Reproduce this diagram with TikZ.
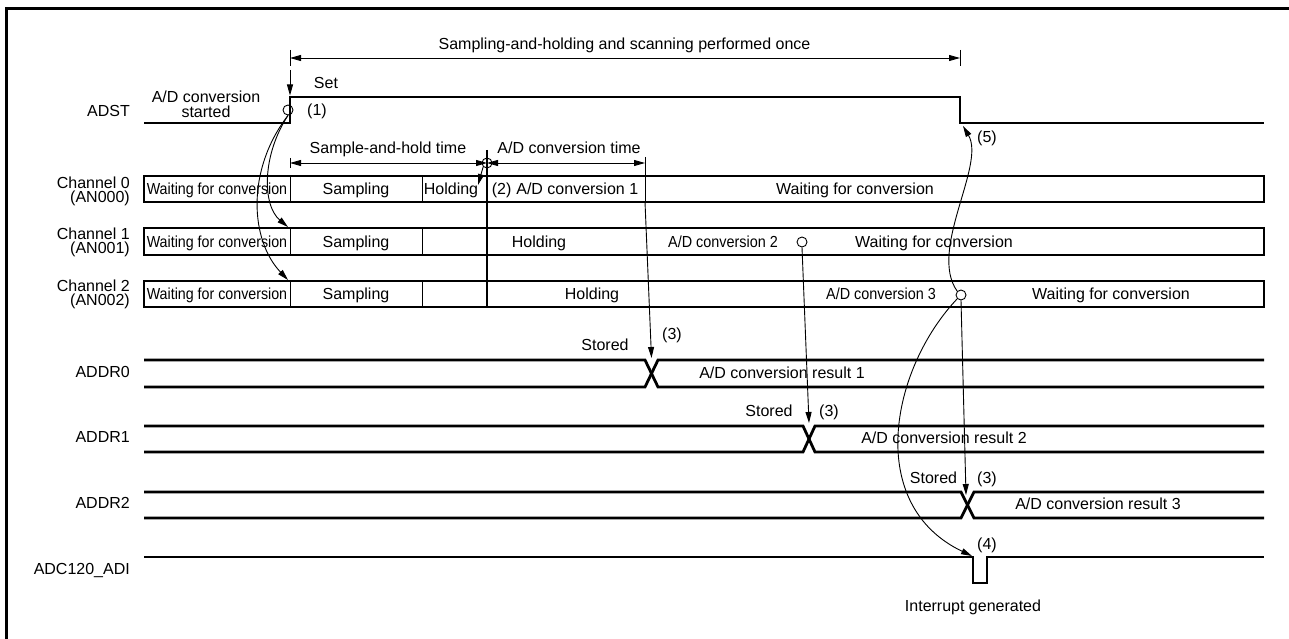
\documentclass[tikz,border=0pt]{standalone}
\usepackage{fontspec}
\usepackage{graphicx}
\setmainfont{Liberation Sans}
\usetikzlibrary{arrows.meta}
\begin{document}
\begin{tikzpicture}[x=1pt,y=-1pt,
  >={Triangle[length=11pt,width=6pt]},
  txt/.style={font=\fontsize{16}{18}\selectfont, inner sep=0pt, text height=11.5pt, text depth=0pt},
  lbl/.style={txt, anchor=east},
  sig/.style={line width=2.8pt, line join=miter},
  chbox/.style={line width=2.8pt},
  thinline/.style={line width=0.9pt},
  arr/.style={thinline, ->},
  dimline/.style={thinline, <->},
  ring/.style={circle, draw, line width=0.9pt, minimum size=10pt, inner sep=0pt},
]
\useasboundingbox (0,0) rectangle (1289,639);
% frame
\draw[line width=3pt] (6.5,639) -- (6.5,8.5) -- (1289,8.5);

% ---------- top dimension ----------
\coordinate (scanL) at (290,58);
\coordinate (scanR) at (960,58);
\draw[thinline] (290,50) -- (290,66) (960,50) -- (960,66);
\draw[dimline] (scanL) -- (scanR);
\node[txt] (scanlbl) at (624.5,44) {Sampling-and-holding and scanning performed once};

% ---------- ADST ----------
\node[lbl] (adstlbl) at (130,111) {ADST};
\coordinate (adstL) at (144,123);
\coordinate (adstRise) at (290,97);
\coordinate (adstFall) at (960,123);
\draw[sig] (adstL) -- (290,123) -- (adstRise) -- (960,97) -- (adstFall) -- (1264,123);
\node[txt] (started1) at (206,97) {A/D conversion};
\node[txt] (started2) at (206,112) {started};
\coordinate (setTop) at (290,70);
\draw[arr] (setTop) -- (290,95.5);
\node[txt] (setlbl) at (326,83) {Set};
\node[ring] (c1) at (288,110) {};
\node[txt] (n1) at (317,110) {(1)};
\node[txt] (n5) at (987,137) {(5)};

% ---------- second dimension row ----------
\draw[thinline] (290,158) -- (290,168);
\draw[thinline] (645,157) -- (645,202);
\coordinate (shL) at (290,163);
\coordinate (shR) at (487,163);
\coordinate (adR) at (645,163);
\draw[dimline] (shL) -- (shR);
\draw[dimline] (shR) -- (adR);
\node[txt] (shlbl) at (388,148) {Sample-and-hold time};
\node[txt] (adlbl) at (569,148) {A/D conversion time};
\draw[line width=2pt] (487,150) -- (487,307);
\node[ring] (c2) at (487,163) {};
\draw[arr] (c2.south west) -- (478,185);

% ---------- channel 0 ----------
\node[lbl] (ch0a) at (130,182.5) {Channel 0};
\node[lbl] (ch0b) at (130,196.5) {(AN000)};
\draw[chbox] (144,176) rectangle (1264,202);
\draw[thinline] (290,176) -- (290,202) (422,176) -- (422,202);
\node[txt] (w0) at (217,189) {\scalebox{0.89}[1]{Waiting for conversion}};
\node[txt] (s0) at (356,189) {Sampling};
\node[txt] (h0) at (451,189) {Holding};
\node[txt] (a0) at (565,189) {(2)\hspace{5pt}A/D conversion 1};
\node[txt] (w0b) at (855,189) {Waiting for conversion};

% ---------- channel 1 ----------
\node[lbl] (ch1a) at (130,234) {Channel 1};
\node[lbl] (ch1b) at (130,248) {(AN001)};
\draw[chbox] (144,228) rectangle (1264,255);
\draw[thinline] (290,228) -- (290,255) (422,228) -- (422,255);
\node[txt] (w1) at (217,241.5) {\scalebox{0.89}[1]{Waiting for conversion}};
\node[txt] (s1) at (356,241.5) {Sampling};
\node[txt] (h1) at (539,241.5) {Holding};
\node[txt] (a1) at (723,241.5) {\scalebox{0.9}[1]{A/D conversion 2}};
\node[ring] (c3) at (802,242) {};
\node[txt] (w1b) at (934,241.5) {Waiting for conversion};

% ---------- channel 2 ----------
\node[lbl] (ch2a) at (130,286) {Channel 2};
\node[lbl] (ch2b) at (130,300) {(AN002)};
\draw[chbox] (144,281) rectangle (1264,307);
\draw[thinline] (290,281) -- (290,307) (422,281) -- (422,307);
\node[txt] (w2) at (217,294) {\scalebox{0.89}[1]{Waiting for conversion}};
\node[txt] (s2) at (356,294) {Sampling};
\node[txt] (h2) at (592,294) {Holding};
\node[txt] (a2) at (881,294) {\scalebox{0.9}[1]{A/D conversion 3}};
\node[ring] (c4) at (961,295) {};
\node[txt] (w2b) at (1111,294) {Waiting for conversion};

% ---------- ADDR0 ----------
\node[lbl] (r0lbl) at (130,372) {ADDR0};
\coordinate (x0) at (651.5,358);
\draw[sig] (144,360) -- (645,360) -- (658,387) -- (1264,387);
\draw[sig] (144,387) -- (645,387) -- (658,360) -- (1264,360);
\node[txt] (st0) at (605,345) {Stored};
\node[txt] (p30) at (672,334) {(3)};
\node[txt] (res0) at (782,373) {A/D conversion result 1};

% ---------- ADDR1 ----------
\node[lbl] (r1lbl) at (130,437) {ADDR1};
\coordinate (x1) at (809,423);
\draw[sig] (144,426) -- (803,426) -- (815,452) -- (1264,452);
\draw[sig] (144,452) -- (803,452) -- (815,426) -- (1264,426);
\node[txt] (st1) at (769,411) {Stored};
\node[txt] (p31) at (829,411) {(3)};
\node[txt] (res1) at (944,438) {A/D conversion result 2};

% ---------- ADDR2 ----------
\node[lbl] (r2lbl) at (130,503) {ADDR2};
\coordinate (x2) at (966,495);
\draw[sig] (144,492) -- (961,492) -- (974,518) -- (1264,518);
\draw[sig] (144,518) -- (961,518) -- (974,492) -- (1264,492);
\node[txt] (st2) at (933.5,478) {Stored};
\node[txt] (p32) at (987,478) {(3)};
\node[txt] (res2) at (1098,504) {A/D conversion result 3};

% ---------- ADC120_ADI ----------
\node[lbl] (adilbl) at (130,569) {ADC120\_ADI};
\coordinate (pulse) at (972,556);
\draw[sig] (144,557) -- (973,557) -- (973,583) -- (987,583) -- (987,557) -- (1264,557);
\node[txt] (p4) at (987,544) {(4)};
\node[txt] (intlbl) at (973,606) {Interrupt generated};

% ---------- connectors ----------
\coordinate (ch1start) at (288,227);
\coordinate (ch2start) at (288,280);
\draw[arr] (c1.south) .. controls (262,155) and (262,205) .. (ch1start);
\draw[arr] (c1.south) .. controls (246,170) and (250,240) .. (ch2start);
\coordinate (ad1end) at (645,202);
\draw[arr] (ad1end) -- (x0);
\draw[arr] (c3.south) -- (x1);
\draw[arr] (c4.south) -- (x2);
\coordinate (adstFallTip) at (963,126);
\draw[arr] (c4.north west) .. controls (928,250) and (986,165) .. (adstFallTip);
\draw[arr] (c4.south west) .. controls (890,370) and (865,505) .. (pulse);
\end{tikzpicture}
\end{document}
